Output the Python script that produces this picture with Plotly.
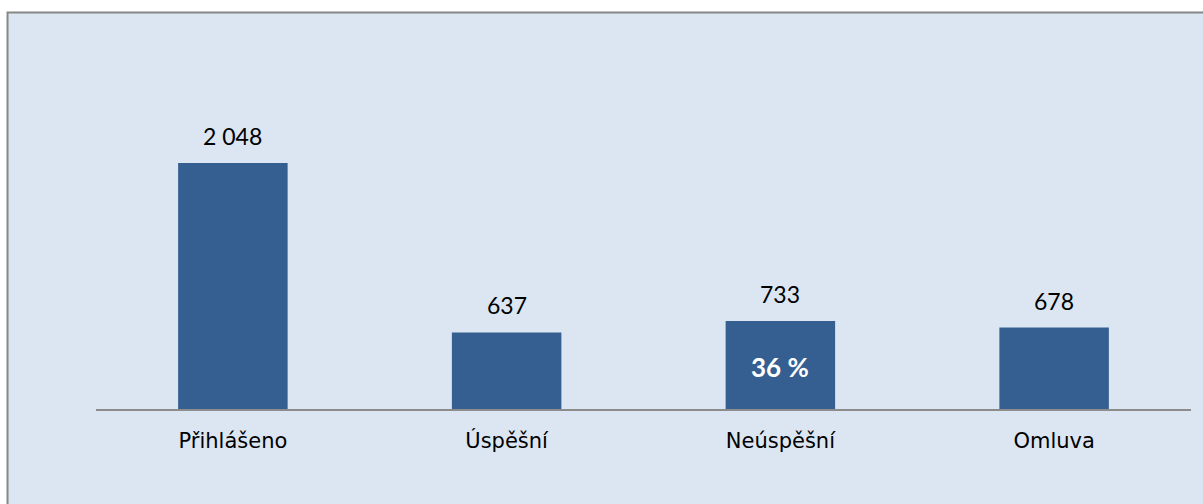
import plotly.graph_objects as go

# -------------------------------------------------------
# Data
# -------------------------------------------------------
kategorie = ["Přihlášeno", "Úspěšní", "Neúspěšní", "Omluva"]
pocty = [2048, 637, 733, 678]
popisky = ["2 048", "637", "733", "678"]
podil_kategorie = "Neúspěšní"
podil_text = "36 %"

BAR_COLOR = "#365f91"
BG_COLOR = "#dce6f2"

fig = go.Figure()

fig.add_trace(go.Bar(
    x=kategorie,
    y=pocty,
    width=0.4,
    marker=dict(color=BAR_COLOR, line=dict(width=0)),
    hoverinfo="x+y",
))

# value labels above bars
for kat, val, txt in zip(kategorie, pocty, popisky):
    fig.add_annotation(
        x=kat, y=val, text=txt, showarrow=False,
        yanchor="bottom", yshift=11,
        font=dict(family="Lato, sans-serif", size=23, color="#000000"),
    )

# percentage inside the bar
idx = kategorie.index(podil_kategorie)
fig.add_annotation(
    x=podil_kategorie, y=pocty[idx] / 2, text="<b>" + podil_text + "</b>",
    showarrow=False, yshift=-2,
    font=dict(family="Lato, sans-serif", size=26, color="#ffffff"),
)

# chart background with gray frame
fig.add_shape(
    type="rect", xref="paper", yref="paper",
    x0=-0.0808, x1=1.2, y0=-0.5, y1=1.0745,
    fillcolor=BG_COLOR, line=dict(color="#878787", width=2),
    layer="below",
)

fig.update_layout(
    width=1203, height=504,
    margin=dict(l=96, r=12, t=40, b=95),
    paper_bgcolor="#ffffff",
    plot_bgcolor="rgba(0,0,0,0)",
    showlegend=False,
    bargap=0.6,
    font=dict(family="DejaVu Sans, sans-serif", size=21, color="#000000"),
)

fig.update_xaxes(
    showline=True, linecolor="#8c8c8c", linewidth=2,
    ticks="", ticklabelstandoff=12,
    showgrid=False, zeroline=False,
    tickfont=dict(family="DejaVu Sans, sans-serif", size=21, color="#000000"),
)
fig.update_yaxes(
    range=[0, 3072], visible=False, showgrid=False, zeroline=False,
)

# no page margin, so the 1203x504 figure fills the window
fig.write_html(
    "out.html",
    config={"displayModeBar": False},
    post_script="document.body.style.margin='0';document.body.style.overflow='hidden';",
)
